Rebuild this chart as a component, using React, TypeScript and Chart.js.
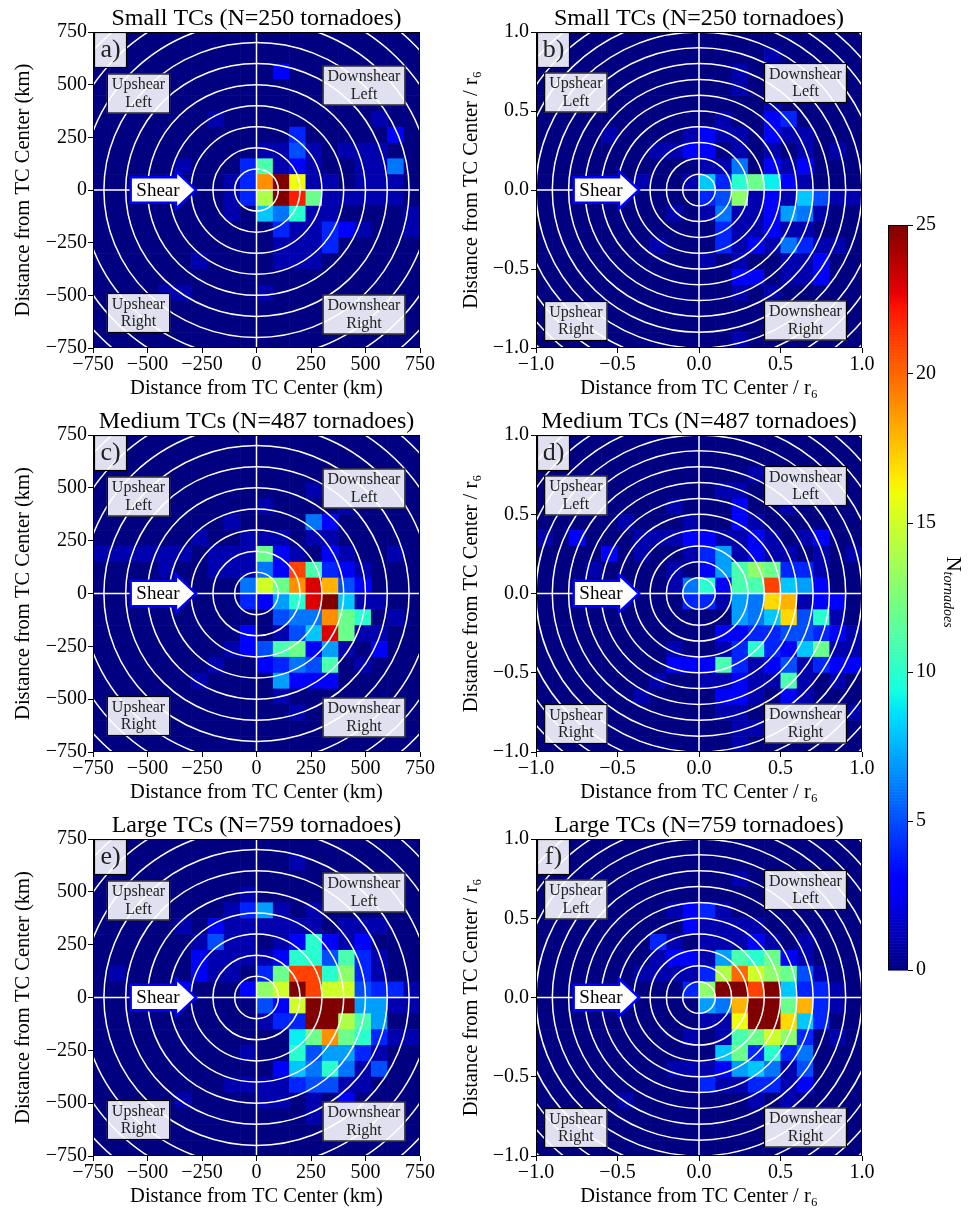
import React, { useEffect, useRef } from "react";
import { Chart, registerables } from "chart.js";

Chart.register(...registerables);

const FONT = "'Liberation Serif', 'DejaVu Serif', serif";
Chart.defaults.font.family = FONT;
Chart.defaults.color = "#000";

// ---------- data: tornado counts per 20x20 bin (row 0 = top, col 0 = left) ----------
const SMALL_KM: number[][] = [
  [0,0,0,0,0,0,0,0,0,0,0,0,0,0,0,0,0,0,0,0],
  [0,0,0,0,0,0,0,0,0,0,0,0,0,0,0,0,0,0,0,0],
  [0,0,0,0,0,0,0,0,0,0,0,3,0,0,0,0,0,0,0,0],
  [0,0,0,0,0,0,0,0,0,0,0,0,0,0,0,0,0,0,0,0],
  [0,0,0,0,0,0,0,0,0,0,0,0,0,0,0,0,0,0,0,0],
  [0,0,0,0,0,0,0,1,0,0,0,0,0,0,0,0,0,1,0,0],
  [0,0,0,0,0,0,0,0,0,0,0,0,4,0,0,0,0,0,3,0],
  [0,0,0,0,0,0,0,0,0,0,1,1,5,1,0,1,1,1,0,0],
  [0,0,0,0,0,1,0,0,0,4,11,1,3,1,0,0,1,1,6,0],
  [0,0,0,0,0,0,0,0,1,4,19,25,16,1,1,0,1,1,1,0],
  [0,0,0,0,0,0,0,0,1,4,14,25,22,12,1,1,1,1,1,0],
  [0,0,0,0,0,0,0,0,1,0,8,6,10,1,1,0,0,0,0,1],
  [0,0,0,0,0,0,0,0,0,0,0,4,1,1,4,3,1,0,0,1],
  [0,0,0,0,0,0,0,0,0,0,0,1,1,1,4,0,0,0,0,0],
  [0,0,0,0,0,0,1,0,0,0,0,1,1,1,0,0,0,0,0,0],
  [0,0,0,0,0,0,0,0,0,0,0,0,0,0,0,0,0,0,0,0],
  [0,0,0,0,1,1,0,0,0,0,1,0,0,0,0,0,0,0,0,0],
  [0,0,0,0,0,0,0,0,0,0,0,0,0,0,0,0,0,0,0,0],
  [0,0,0,0,0,0,0,0,0,0,0,0,0,0,0,0,0,0,0,0],
  [0,0,0,0,0,0,0,0,0,0,0,0,0,0,0,0,0,0,0,0],
];

const SMALL_R6: number[][] = [
  [0,0,0,0,0,0,0,0,0,0,0,0,0,0,0,0,0,0,0,0],
  [0,0,0,0,0,0,0,0,0,0,0,0,0,0,1,0,0,0,0,0],
  [0,0,0,0,0,0,0,0,0,0,0,0,1,0,0,0,0,0,0,0],
  [0,0,0,0,0,0,0,0,0,0,0,0,1,0,0,0,0,0,0,0],
  [0,0,0,0,0,0,0,0,0,0,0,0,0,0,1,0,0,0,0,0],
  [0,0,0,0,0,0,0,0,0,0,0,1,0,0,3,4,0,0,0,0],
  [0,0,0,0,1,0,0,0,0,1,3,1,1,0,3,1,1,0,0,0],
  [0,0,0,0,0,0,0,1,1,3,3,0,1,0,1,0,1,0,1,0],
  [0,0,0,0,0,0,0,0,0,0,1,1,6,0,3,1,3,0,0,0],
  [0,0,0,0,0,0,1,0,0,1,8,4,10,12,9,3,1,0,0,0],
  [0,0,0,0,0,0,0,0,0,0,4,5,13,1,3,1,8,5,1,1],
  [0,0,0,0,0,0,0,0,1,0,1,6,1,1,3,7,6,1,0,0],
  [0,0,0,0,0,0,0,0,0,0,0,4,1,1,3,1,1,0,0,0],
  [0,0,0,0,0,0,0,1,0,0,0,4,1,3,1,6,4,1,1,0],
  [0,0,0,0,0,0,0,0,0,0,1,0,1,0,0,1,1,3,0,0],
  [0,0,0,0,0,0,0,0,0,0,0,0,3,3,0,1,1,3,0,0],
  [0,0,0,0,0,0,0,0,0,0,0,0,1,0,1,0,0,0,0,0],
  [0,0,0,0,0,0,0,0,0,0,0,0,0,0,0,0,0,0,0,0],
  [0,0,0,0,0,0,0,0,0,0,0,0,0,0,0,0,0,0,0,0],
  [0,0,0,0,0,0,0,0,0,0,0,0,1,0,0,0,0,0,0,0],
];

const MEDIUM_KM: number[][] = [
  [0,0,0,0,0,0,0,0,0,0,0,0,0,0,0,0,0,0,0,0],
  [0,0,0,0,0,0,0,0,0,0,0,0,0,0,0,0,0,0,0,0],
  [0,0,0,0,0,0,0,0,0,0,0,0,0,0,0,0,0,0,0,0],
  [0,0,0,0,0,0,0,0,0,0,0,0,0,1,0,0,0,0,0,0],
  [0,0,0,0,0,0,0,0,0,0,1,0,0,0,0,1,0,0,0,0],
  [0,0,0,0,0,0,0,0,1,0,0,0,0,6,3,0,0,0,0,0],
  [0,0,0,0,0,0,1,0,0,1,1,1,0,1,1,0,0,0,0,0],
  [1,1,1,1,1,1,0,1,1,1,12,3,1,0,3,1,0,0,1,0],
  [0,0,0,0,1,0,0,1,1,1,6,3,21,11,4,3,1,0,0,0],
  [0,0,0,0,0,0,0,0,0,6,15,12,19,23,18,5,3,0,0,0],
  [0,0,0,0,0,0,0,0,0,4,3,7,10,23,25,8,1,1,0,0],
  [0,0,0,0,0,0,0,0,0,0,0,5,6,6,19,12,10,0,1,0],
  [0,0,0,0,0,0,0,0,0,3,0,1,5,8,23,12,1,1,0,0],
  [0,0,0,0,0,0,0,0,1,3,5,11,12,3,7,1,0,3,0,0],
  [0,0,0,0,0,0,0,1,0,0,3,4,6,5,11,0,1,0,0,0],
  [0,0,0,0,0,0,1,0,0,0,0,7,3,3,3,0,0,0,0,0],
  [0,0,0,0,0,0,0,0,0,0,0,1,0,0,0,0,0,0,0,0],
  [0,0,0,0,0,0,0,0,0,0,0,0,1,0,0,0,0,0,0,0],
  [0,0,0,0,0,0,0,0,0,0,0,0,0,0,0,0,0,0,0,0],
  [0,0,0,0,0,0,0,0,0,0,0,0,0,0,0,0,0,0,0,0],
];

const MEDIUM_R6: number[][] = [
  [0,0,0,0,0,0,0,0,0,0,0,0,0,0,0,0,0,0,0,0],
  [0,0,0,0,0,0,0,0,0,0,0,0,0,0,0,0,0,0,0,0],
  [0,0,0,0,0,0,0,0,0,0,0,0,0,1,0,0,0,0,0,0],
  [0,0,0,0,0,0,0,0,0,0,0,1,1,0,0,0,0,0,0,0],
  [0,0,0,0,0,0,0,0,1,0,0,0,3,0,0,1,0,0,0,0],
  [0,0,0,0,0,1,0,0,0,1,0,0,3,1,0,0,0,0,0,0],
  [1,0,3,0,0,0,1,1,1,3,3,1,1,3,1,0,1,3,0,0],
  [0,0,0,0,3,0,1,0,0,1,4,7,1,3,1,1,0,1,0,1],
  [0,0,0,1,0,0,0,0,1,0,3,7,11,13,12,4,4,1,0,0],
  [0,0,0,0,0,0,0,0,1,6,10,3,11,11,21,8,7,3,0,0],
  [0,0,0,0,0,0,0,0,0,4,4,1,7,6,17,18,1,3,3,0],
  [0,0,0,0,0,0,0,0,0,0,0,0,7,6,8,17,5,10,1,0],
  [0,0,0,0,0,0,0,0,0,0,0,3,3,4,4,5,5,4,3,1],
  [0,0,0,0,0,0,0,0,1,0,0,1,4,10,4,3,8,12,1,1],
  [0,0,0,0,0,0,0,0,3,3,3,11,4,1,3,5,1,4,3,3],
  [0,0,0,0,0,0,0,1,0,0,1,1,3,1,1,11,1,0,1,0],
  [0,0,0,0,0,0,1,0,0,0,0,3,3,1,0,3,1,0,0,0],
  [0,0,0,0,0,0,0,0,0,0,0,1,1,0,0,0,0,0,0,1],
  [0,0,0,0,0,0,0,0,0,0,0,0,1,1,0,0,0,0,0,0],
  [0,0,0,0,0,0,0,0,0,0,0,0,1,0,0,0,0,0,0,0],
];

const LARGE_KM: number[][] = [
  [0,0,0,0,0,0,0,0,0,0,0,0,0,0,0,0,0,0,0,0],
  [0,0,0,0,0,0,0,0,0,0,0,0,1,0,0,0,0,0,0,0],
  [0,0,0,0,0,0,0,0,0,0,0,0,0,0,0,0,0,0,0,0],
  [0,0,0,0,0,0,0,0,0,1,0,0,0,0,0,0,0,0,0,0],
  [0,0,0,0,0,0,0,0,1,4,7,1,0,1,0,0,0,0,0,0],
  [0,0,0,0,0,1,0,3,1,1,1,1,1,1,0,1,1,1,0,0],
  [0,0,0,0,0,0,1,5,1,1,0,1,3,10,3,1,3,0,0,0],
  [0,0,0,0,0,0,3,1,1,1,1,3,10,10,5,11,4,1,0,0],
  [0,1,0,0,0,0,3,1,1,0,4,12,21,21,10,13,4,1,0,0],
  [0,0,0,0,0,3,0,0,0,3,13,15,25,21,15,15,5,4,4,1],
  [0,0,0,0,0,0,0,0,0,0,5,3,15,25,25,25,7,7,1,1],
  [0,0,0,0,0,0,0,0,0,0,1,4,4,25,25,14,11,7,0,0],
  [0,0,0,0,0,0,0,0,0,0,0,0,9,12,19,12,10,4,1,1],
  [0,0,0,0,0,0,0,0,0,1,0,0,10,5,7,7,4,1,0,0],
  [0,0,0,0,0,0,0,0,0,0,0,3,8,6,10,6,1,5,0,0],
  [0,0,0,0,0,0,0,0,1,1,1,1,4,5,5,1,1,0,0,0],
  [0,0,0,0,0,1,0,0,0,0,1,1,0,1,0,3,0,0,0,0],
  [0,0,0,0,0,0,0,0,0,0,0,0,0,1,0,0,0,0,0,0],
  [0,0,0,0,0,0,0,0,0,0,0,0,0,0,0,0,0,0,0,0],
  [0,0,0,0,0,0,0,0,0,0,0,0,0,0,0,0,0,0,0,0],
];

const LARGE_R6: number[][] = [
  [0,0,0,0,0,0,0,0,0,0,0,0,0,0,0,0,0,0,0,0],
  [0,0,0,0,0,0,0,0,0,0,0,0,0,0,0,0,0,0,0,0],
  [0,0,0,0,0,0,0,0,0,0,0,0,1,0,0,0,0,0,0,0],
  [0,0,0,0,0,0,0,0,0,0,0,0,0,0,0,0,0,0,0,0],
  [0,0,0,0,0,0,0,0,1,3,4,1,0,0,0,0,0,0,0,0],
  [0,0,0,0,0,0,0,0,0,3,1,1,1,1,0,0,0,0,0,0],
  [0,0,0,0,0,0,0,4,1,0,1,1,1,3,1,0,1,0,0,0],
  [0,0,0,0,0,0,0,1,3,3,1,7,11,10,12,3,1,0,0,0],
  [0,0,0,0,0,0,1,1,1,1,4,14,20,15,13,12,5,1,0,0],
  [0,0,0,0,0,0,0,0,0,4,13,25,25,21,25,8,4,4,1,0],
  [0,0,0,0,0,0,0,0,0,0,7,6,18,25,25,12,18,4,1,0],
  [0,0,0,0,0,0,0,0,0,0,1,1,16,25,25,17,8,4,0,0],
  [0,0,0,0,0,0,0,0,0,1,0,1,11,12,15,13,4,0,1,0],
  [0,0,0,0,0,0,0,0,0,0,0,8,12,4,10,4,6,0,0,0],
  [0,0,0,0,0,0,0,0,1,1,1,3,7,8,6,1,5,0,0,0],
  [0,0,0,0,0,0,0,0,0,0,4,1,1,4,4,1,3,0,0,0],
  [0,0,0,0,0,1,0,0,0,0,0,0,0,1,0,1,0,0,0,0],
  [0,0,0,0,0,0,0,0,0,0,0,0,0,0,0,0,0,0,0,0],
  [0,0,0,0,0,0,0,0,0,0,0,0,0,0,0,0,0,0,0,0],
  [0,0,0,0,0,0,0,0,0,0,0,0,0,0,0,0,0,0,0,0],
];

const PANEL_TITLES = [
  "Small TCs (N=250 tornadoes)",
  "Medium TCs (N=487 tornadoes)",
  "Large TCs (N=759 tornadoes)",
];
const PANEL_LETTERS = ["a)", "b)", "c)", "d)", "e)", "f)"];
const KM_RINGS = [100, 200, 300, 400, 500, 600, 700, 800, 900, 1000];
const R6_RINGS = [0.1, 0.2, 0.3, 0.4, 0.5, 0.6, 0.7, 0.8, 0.9, 1.0, 1.1, 1.2, 1.3, 1.4];
const CBAR_TICKS = [0, 5, 10, 15, 20, 25];
const VMAX = 25;

// ---------- colormap (matplotlib jet) ----------
const JET_R = [[0, 0], [0.35, 0], [0.66, 1], [0.89, 1], [1, 0.5]];
const JET_G = [[0, 0], [0.125, 0], [0.375, 1], [0.64, 1], [0.91, 0], [1, 0]];
const JET_B = [[0, 0.5], [0.11, 1], [0.34, 1], [0.65, 0], [1, 0]];
function seg(pts: number[][], t: number) {
  for (let i = 1; i < pts.length; i++) {
    if (t <= pts[i][0]) {
      const [x0, y0] = pts[i - 1];
      const [x1, y1] = pts[i];
      return y0 + ((t - x0) / (x1 - x0)) * (y1 - y0);
    }
  }
  return pts[pts.length - 1][1];
}
function jet(t: number) {
  const c = Math.max(0, Math.min(1, t));
  const r = Math.round(seg(JET_R, c) * 255);
  const g = Math.round(seg(JET_G, c) * 255);
  const b = Math.round(seg(JET_B, c) * 255);
  return `rgb(${r},${g},${b})`;
}

// ---------- layout ----------
const COLS = [
  { left: 0, width: 440, yWidth: 93, yTitlePad: 11, tickPad: 1 },
  { left: 440, width: 442, yWidth: 96, yTitlePad: 19, tickPad: 2 },
];
const ROWS = [
  { plotTop: 32, plotBottom: 348 },
  { plotTop: 435, plotBottom: 752 },
  { plotTop: 839, plotBottom: 1156 },
];
const TOP_PAD = 32;
const X_BOX = 55;

type Unit = "km" | "r6";
interface PanelSpec {
  grid: number[][];
  unit: Unit;
  title: string;
  letter: string;
  row: number;
  col: number;
}

const PANELS: PanelSpec[] = [
  { grid: SMALL_KM, unit: "km", title: PANEL_TITLES[0], letter: PANEL_LETTERS[0], row: 0, col: 0 },
  { grid: SMALL_R6, unit: "r6", title: PANEL_TITLES[0], letter: PANEL_LETTERS[1], row: 0, col: 1 },
  { grid: MEDIUM_KM, unit: "km", title: PANEL_TITLES[1], letter: PANEL_LETTERS[2], row: 1, col: 0 },
  { grid: MEDIUM_R6, unit: "r6", title: PANEL_TITLES[1], letter: PANEL_LETTERS[3], row: 1, col: 1 },
  { grid: LARGE_KM, unit: "km", title: PANEL_TITLES[2], letter: PANEL_LETTERS[4], row: 2, col: 0 },
  { grid: LARGE_R6, unit: "r6", title: PANEL_TITLES[2], letter: PANEL_LETTERS[5], row: 2, col: 1 },
];

// quadrant label centres in px relative to plot-area top-left
const QUAD_KM = [
  { text: ["Upshear", "Left"], cx: 45.5, cy: 61.5 },
  { text: ["Downshear", "Left"], cx: 271, cy: 53.5 },
  { text: ["Upshear", "Right"], cx: 45.5, cy: 281 },
  { text: ["Downshear", "Right"], cx: 271, cy: 282.5 },
];
const QUAD_R6 = [
  { text: ["Upshear", "Left"], cx: 39.8, cy: 60.5 },
  { text: ["Downshear", "Left"], cx: 269.5, cy: 51 },
  { text: ["Upshear", "Right"], cx: 39.8, cy: 289 },
  { text: ["Downshear", "Right"], cx: 269.5, cy: 288.5 },
];

function fmtMinus(s: string) {
  return s.replace("-", "\u2212");
}

function drawBox(ctx: CanvasRenderingContext2D, x: number, y: number, w: number, h: number) {
  ctx.fillStyle = "rgba(255,255,255,0.88)";
  ctx.fillRect(x, y, w, h);
  ctx.strokeStyle = "#000";
  ctx.lineWidth = 1.2;
  ctx.strokeRect(x + 0.5, y + 0.5, w - 1, h - 1);
}

function makePanelPlugin(spec: PanelSpec) {
  const isKm = spec.unit === "km";
  const rings = isKm ? KM_RINGS : R6_RINGS;
  const bin = isKm ? 75 : 0.1;
  const quads = isKm ? QUAD_KM : QUAD_R6;
  return {
    id: "heatPanel",
    beforeDatasetsDraw(chart: any) {
      const { ctx, chartArea: a } = chart;
      const xs = chart.scales.x;
      const ys = chart.scales.y;
      ctx.save();
      ctx.beginPath();
      ctx.rect(a.left, a.top, a.right - a.left, a.bottom - a.top);
      ctx.clip();
      const cells = chart.data.datasets[0].data as any[];
      for (const c of cells) {
        const x0 = xs.getPixelForValue(c.x - bin / 2);
        const x1 = xs.getPixelForValue(c.x + bin / 2);
        const y0 = ys.getPixelForValue(c.y + bin / 2);
        const y1 = ys.getPixelForValue(c.y - bin / 2);
        ctx.fillStyle = jet(c.v / VMAX);
        ctx.fillRect(x0, y0, x1 - x0 + 0.6, y1 - y0 + 0.6);
      }
      const cx = xs.getPixelForValue(0);
      const cy = ys.getPixelForValue(0);
      ctx.strokeStyle = "#fff";
      ctx.lineWidth = 1.5;
      for (const r of rings) {
        const rx = xs.getPixelForValue(r) - cx;
        const ry = cy - ys.getPixelForValue(r);
        ctx.beginPath();
        ctx.ellipse(cx, cy, rx, ry, 0, 0, Math.PI * 2);
        ctx.stroke();
      }
      ctx.beginPath();
      ctx.moveTo(a.left, cy);
      ctx.lineTo(a.right, cy);
      ctx.moveTo(cx, a.top);
      ctx.lineTo(cx, a.bottom);
      ctx.stroke();

      // shear arrow
      const bl = a.left + 37.7;
      const hs = a.left + 83;
      const tip = a.left + 103;
      const bh = 12.8;
      const hh = 18.7;
      ctx.beginPath();
      ctx.moveTo(bl, cy - bh);
      ctx.lineTo(hs, cy - bh);
      ctx.lineTo(hs, cy - hh);
      ctx.lineTo(tip, cy);
      ctx.lineTo(hs, cy + hh);
      ctx.lineTo(hs, cy + bh);
      ctx.lineTo(bl, cy + bh);
      ctx.closePath();
      ctx.fillStyle = "#fff";
      ctx.fill();
      ctx.strokeStyle = "#0000ff";
      ctx.lineWidth = 2.4;
      ctx.lineJoin = "miter";
      ctx.stroke();
      ctx.fillStyle = "#000";
      ctx.font = `19px ${FONT}`;
      ctx.textAlign = "center";
      ctx.textBaseline = "middle";
      ctx.fillText("Shear", a.left + 65, cy + 1);

      // quadrant labels
      ctx.font = `16px ${FONT}`;
      for (const q of quads) {
        const w = Math.max(...q.text.map((t) => ctx.measureText(t).width)) + 10;
        const h = 40;
        const bx = a.left + q.cx - w / 2;
        const by = a.top + q.cy - h / 2;
        drawBox(ctx, bx, by, w, h);
        ctx.fillStyle = "#222";
        ctx.textAlign = "center";
        ctx.textBaseline = "middle";
        ctx.fillText(q.text[0], a.left + q.cx, a.top + q.cy - 8.5);
        ctx.fillText(q.text[1], a.left + q.cx, a.top + q.cy + 9);
      }
      // panel letter
      drawBox(ctx, a.left + 1, a.top, 33, 36);
      ctx.font = `26px ${FONT}`;
      ctx.fillStyle = "#222";
      ctx.textAlign = "center";
      ctx.textBaseline = "middle";
      ctx.fillText(spec.letter, a.left + 17.5, a.top + 18);
      ctx.restore();

      // frame
      ctx.save();
      ctx.strokeStyle = "#000";
      ctx.lineWidth = 1;
      ctx.strokeRect(a.left + 0.5, a.top + 0.5, a.right - a.left - 1, a.bottom - a.top - 1);
      // title
      ctx.fillStyle = "#000";
      ctx.font = `24px ${FONT}`;
      ctx.textAlign = "center";
      ctx.textBaseline = "alphabetic";
      ctx.fillText(spec.title, (a.left + a.right) / 2, a.top - 7);
      ctx.restore();
    },
  };
}

function buildPanelConfig(spec: PanelSpec): any {
  const isKm = spec.unit === "km";
  const lim = isKm ? 750 : 1;
  const bin = isKm ? 75 : 0.1;
  const col = COLS[spec.col];
  const cells: { x: number; y: number; v: number }[] = [];
  spec.grid.forEach((row, j) =>
    row.forEach((v, k) => cells.push({ x: -lim + (k + 0.5) * bin, y: lim - (j + 0.5) * bin, v }))
  );
  const axisTitle = isKm ? "Distance from TC Center (km)" : "Distance from TC Center / r\u2086";
  const tickCb = (v: any) => (isKm ? fmtMinus(String(v)) : fmtMinus(Number(v).toFixed(1)));
  const tickFont = { family: FONT, size: 20 };
  const titleFont = { family: FONT, size: 20.5 };
  const grid = { display: true, drawOnChartArea: false, drawTicks: true, tickLength: 5, color: "#000", lineWidth: 1 };
  return {
    type: "scatter",
    data: { datasets: [{ data: cells, pointRadius: 0, pointHoverRadius: 0 }] },
    options: {
      animation: false,
      responsive: false,
      maintainAspectRatio: false,
      events: [],
      layout: { padding: { left: 0, right: 20, top: TOP_PAD, bottom: 0 } },
      plugins: { legend: { display: false }, tooltip: { enabled: false }, title: { display: false } },
      scales: {
        x: {
          type: "linear",
          min: -lim,
          max: lim,
          ticks: { stepSize: isKm ? 250 : 0.5, callback: tickCb, font: tickFont, color: "#000", padding: 0, maxRotation: 0, autoSkip: false },
          grid,
          border: { display: false },
          title: { display: true, text: axisTitle, font: titleFont, color: "#000", padding: { top: 0, bottom: 2 } },
          afterFit: (s: any) => {
            s.height = X_BOX;
          },
        },
        y: {
          type: "linear",
          min: -lim,
          max: lim,
          ticks: { stepSize: isKm ? 250 : 0.5, callback: tickCb, font: tickFont, color: "#000", padding: col.tickPad, autoSkip: false },
          grid,
          border: { display: false },
          title: { display: true, text: axisTitle, font: titleFont, color: "#000", padding: { top: col.yTitlePad, bottom: 0 } },
          afterFit: (s: any) => {
            s.width = col.yWidth;
          },
        },
      },
    },
    plugins: [makePanelPlugin(spec)],
  };
}

function HeatPanel({ spec }: { spec: PanelSpec }) {
  const ref = useRef<HTMLCanvasElement>(null);
  const col = COLS[spec.col];
  const row = ROWS[spec.row];
  const top = row.plotTop - TOP_PAD;
  const height = row.plotBottom - row.plotTop + TOP_PAD + X_BOX;
  useEffect(() => {
    const chart = new Chart(ref.current as HTMLCanvasElement, buildPanelConfig(spec));
    return () => chart.destroy();
  }, [spec]);
  return (
    <canvas
      ref={ref}
      width={col.width}
      height={height}
      style={{ position: "absolute", left: col.left, top, width: col.width, height }}
    />
  );
}

const CBAR_TOP = 200;
const colorbarPlugin = {
  id: "colorbar",
  beforeDatasetsDraw(chart: any) {
    const { ctx, chartArea: a } = chart;
    const ys = chart.scales.y;
    ctx.save();
    const steps = 250;
    for (let i = 0; i < steps; i++) {
      const v0 = (i / steps) * VMAX;
      const v1 = ((i + 1) / steps) * VMAX;
      const y0 = ys.getPixelForValue(v1);
      const y1 = ys.getPixelForValue(v0);
      ctx.fillStyle = jet((i + 0.5) / steps);
      ctx.fillRect(a.left, y0, a.right - a.left, y1 - y0 + 0.6);
    }
    ctx.strokeStyle = "#000";
    ctx.lineWidth = 1;
    ctx.strokeRect(a.left + 0.5, a.top + 0.5, a.right - a.left - 1, a.bottom - a.top - 1);
    // label N_tornadoes, rotated clockwise
    ctx.fillStyle = "#000";
    ctx.font = `21px ${FONT}`;
    const wN = ctx.measureText("N").width;
    ctx.font = `italic 14px ${FONT}`;
    const wS = ctx.measureText("tornadoes").width;
    const total = wN + wS;
    const cy = 592 - CBAR_TOP;
    ctx.translate(a.right + 45, cy - total / 2);
    ctx.rotate(Math.PI / 2);
    ctx.textAlign = "left";
    ctx.textBaseline = "middle";
    ctx.font = `21px ${FONT}`;
    ctx.fillText("N", 0, 0);
    ctx.font = `italic 14px ${FONT}`;
    ctx.fillText("tornadoes", wN, 5);
    ctx.restore();
  },
};

function Colorbar() {
  const ref = useRef<HTMLCanvasElement>(null);
  useEffect(() => {
    const chart = new Chart(ref.current as HTMLCanvasElement, {
      type: "scatter",
      data: { datasets: [{ data: CBAR_TICKS.map((t) => ({ x: 0.5, y: t })), pointRadius: 0, pointHoverRadius: 0 }] },
      options: {
        animation: false,
        responsive: false,
        maintainAspectRatio: false,
        events: [],
        layout: { padding: { left: 8, right: 0, top: 25, bottom: 20 } },
        plugins: { legend: { display: false }, tooltip: { enabled: false } },
        scales: {
          x: { type: "linear", display: false, min: 0, max: 1 },
          y: {
            type: "linear",
            position: "right",
            min: 0,
            max: VMAX,
            afterBuildTicks: (s: any) => {
              s.ticks = CBAR_TICKS.map((v) => ({ value: v }));
            },
            ticks: { font: { family: FONT, size: 20 }, color: "#000", padding: 3 },
            grid: { display: true, drawOnChartArea: false, drawTicks: true, tickLength: 5, color: "#000" },
            border: { display: false },
            afterFit: (s: any) => {
              s.width = 62;
            },
          },
        },
      } as any,
      plugins: [colorbarPlugin],
    });
    return () => chart.destroy();
  }, []);
  return (
    <canvas ref={ref} width={90} height={790} style={{ position: "absolute", left: 880, top: CBAR_TOP, width: 90, height: 790 }} />
  );
}

export default function App() {
  return (
    <div style={{ position: "absolute", left: 0, top: 0, width: 970, height: 1211, background: "#fff", overflow: "hidden" }}>
      {PANELS.map((p, i) => (
        <HeatPanel key={i} spec={p} />
      ))}
      <Colorbar />
    </div>
  );
}
